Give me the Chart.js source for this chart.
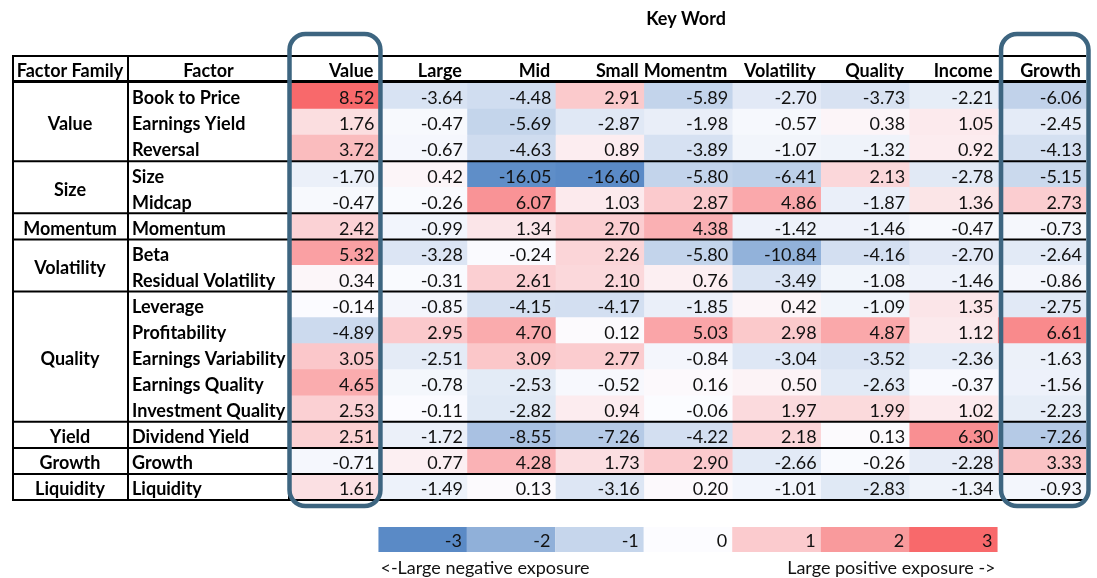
<!DOCTYPE html>
<html>
<head>
<meta charset="utf-8">
<script src="https://cdn.jsdelivr.net/npm/chart.js@4.4.1/dist/chart.umd.min.js"></script>
<style>
    body { margin: 0; background: #fff; }
    #wrap { width: 1097px; height: 578px; }
</style>
</head>
<body>
<div id="wrap"><canvas id="heat" width="1097" height="578"></canvas></div>
<script>
const columns = ['Value', 'Large', 'Mid', 'Small', 'Momentm', 'Volatility', 'Quality', 'Income', 'Growth'];
const factors = ['Book to Price', 'Earnings Yield', 'Reversal', 'Size', 'Midcap', 'Momentum', 'Beta',
    'Residual Volatility', 'Leverage', 'Profitability', 'Earnings Variability', 'Earnings Quality',
    'Investment Quality', 'Dividend Yield', 'Growth', 'Liquidity'];
const families = ['Value', 'Size', 'Momentum', 'Volatility', 'Quality', 'Yield', 'Growth', 'Liquidity'];
const familySizes = [3, 2, 1, 2, 5, 1, 1, 1];

const valueCol = [8.52, 1.76, 3.72, -1.70, -0.47, 2.42, 5.32, 0.34, -0.14, -4.89, 3.05, 4.65, 2.53, 2.51, -0.71, 1.61];
const largeCol = [-3.64, -0.47, -0.67, 0.42, -0.26, -0.99, -3.28, -0.31, -0.85, 2.95, -2.51, -0.78, -0.11, -1.72, 0.77, -1.49];
const midCol = [-4.48, -5.69, -4.63, -16.05, 6.07, 1.34, -0.24, 2.61, -4.15, 4.70, 3.09, -2.53, -2.82, -8.55, 4.28, 0.13];
const smallCol = [2.91, -2.87, 0.89, -16.60, 1.03, 2.70, 2.26, 2.10, -4.17, 0.12, 2.77, -0.52, 0.94, -7.26, 1.73, -3.16];
const momentumCol = [-5.89, -1.98, -3.89, -5.80, 2.87, 4.38, -5.80, 0.76, -1.85, 5.03, -0.84, 0.16, -0.06, -4.22, 2.90, 0.20];
const volatilityCol = [-2.70, -0.57, -1.07, -6.41, 4.86, -1.42, -10.84, -3.49, 0.42, 2.98, -3.04, 0.50, 1.97, 2.18, -2.66, -1.01];
const qualityCol = [-3.73, 0.38, -1.32, 2.13, -1.87, -1.46, -4.16, -1.08, -1.09, 4.87, -3.52, -2.63, 1.99, 0.13, -0.26, -2.83];
const incomeCol = [-2.21, 1.05, 0.92, -2.78, 1.36, -0.47, -2.70, -1.46, 1.35, 1.12, -2.36, -0.37, 1.02, 6.30, -2.28, -1.34];
const growthCol = [-6.06, -2.45, -4.13, -5.15, 2.73, -0.73, -2.64, -0.86, -2.75, 6.61, -1.63, -1.56, -2.23, -7.26, 3.33, -0.93];

const legendTicks = [-3, -2, -1, 0, 1, 2, 3];

const allCols = [valueCol, largeCol, midCol, smallCol, momentumCol, volatilityCol, qualityCol, incomeCol, growthCol];

// excel style 3 colour scale: blue - white - red, midpoint 0
const LOW = [90, 138, 198];
const MID = [252, 252, 255];
const HIGH = [248, 105, 107];
const allValues = allCols.flat();
const minVal = Math.min(...allValues);
const maxVal = Math.max(...allValues);

function mix(a, b, t) {
    const c = a.map((v, i) => Math.round(v + (b[i] - v) * t));
    return `rgb(${c[0]},${c[1]},${c[2]})`;
}
function colorFrac(t) {
    return t >= 0 ? mix(MID, HIGH, t) : mix(MID, LOW, -t);
}
function cellColor(v) {
    return v >= 0 ? colorFrac(v / maxVal) : colorFrac(-v / minVal);
}

const FONT = 'Lato, "Open Sans", sans-serif';
const SIZE = '18px ';

const datasets = allCols.map((col, j) => ({
    label: columns[j],
    data: factors.map(() => [j, j + 1]),
    backgroundColor: col.map(cellColor),
    borderWidth: 0,
    barPercentage: 1,
    categoryPercentage: 1,
    grouped: false
}));

const tablePlugin = {
    id: 'tablePlugin',
    afterDatasetsDraw(chart) {
        const ctx = chart.ctx;
        ctx.save();
        ctx.font = SIZE + FONT;
        ctx.fillStyle = '#111';
        ctx.textAlign = 'right';
        ctx.textBaseline = 'middle';
        allCols.forEach((col, j) => {
            const meta = chart.getDatasetMeta(j);
            meta.data.forEach((bar, i) => {
                ctx.fillText(col[i].toFixed(2), bar.x - 4, bar.y + 2.5);
            });
        });
        ctx.restore();
    },
    afterDraw(chart) {
        const ctx = chart.ctx;
        const x = chart.scales.x;
        const y = chart.scales.y;
        const area = chart.chartArea;
        const band = (area.bottom - area.top) / factors.length;
        const left = 12;
        const famRight = 128;
        const facRight = 289;
        const headTop = 56;
        const headY = 71;

        ctx.save();
        ctx.fillStyle = '#000';
        ctx.textBaseline = 'middle';

        // title
        ctx.font = 'bold ' + SIZE + FONT;
        ctx.textAlign = 'center';
        ctx.fillText('Key Word', (x.getPixelForValue(0) + x.getPixelForValue(9)) / 2 - 2, 19);

        // header
        ctx.fillText('Factor Family', (left + famRight) / 2, headY);
        ctx.fillText('Factor', (famRight + facRight) / 2, headY);
        ctx.textAlign = 'right';
        columns.forEach((c, j) => ctx.fillText(c, x.getPixelForValue(j + 1) - 5, headY));

        // factor names
        ctx.textAlign = 'left';
        factors.forEach((f, i) => ctx.fillText(f, famRight + 4, y.getPixelForValue(i) + 2.5));

        // families + group lines
        ctx.strokeStyle = '#000';
        ctx.textAlign = 'center';
        let start = 0;
        families.forEach((fam, k) => {
            const end = start + familySizes[k];
            const mid = area.top + band * (start + end) / 2;
            ctx.fillText(fam, (left + famRight) / 2, mid + 2.5);
            const ly = area.top + band * end;
            ctx.lineWidth = 2;
            ctx.beginPath();
            ctx.moveTo(left, ly);
            ctx.lineTo(area.right, ly);
            ctx.stroke();
            start = end;
        });

        // header lines
        ctx.lineWidth = 2;
        ctx.beginPath();
        ctx.moveTo(left, headTop);
        ctx.lineTo(area.right, headTop);
        ctx.stroke();
        ctx.lineWidth = 3;
        ctx.beginPath();
        ctx.moveTo(left, area.top - 1.5);
        ctx.lineTo(area.right, area.top - 1.5);
        ctx.stroke();

        // vertical lines
        ctx.lineWidth = 2;
        [left + 1, famRight, facRight].forEach(vx => {
            ctx.beginPath();
            ctx.moveTo(vx, headTop - 1);
            ctx.lineTo(vx, area.bottom + 1);
            ctx.stroke();
        });

        // highlight boxes
        ctx.strokeStyle = '#3d6580';
        ctx.lineWidth = 4.5;
        const boxes = [
            [x.getPixelForValue(0) - 0.5, x.getPixelForValue(1) + 2],
            [x.getPixelForValue(8) + 3.5, x.getPixelForValue(9) + 2.5]
        ];
        boxes.forEach(([bl, br]) => {
            ctx.beginPath();
            ctx.roundRect(bl, 34, br - bl, 472, 16);
            ctx.stroke();
        });

        // colour legend
        const legTop = 527;
        const legH = 25;
        ctx.font = SIZE + FONT;
        legendTicks.forEach((t, k) => {
            const l = x.getPixelForValue(k + 1);
            const r = x.getPixelForValue(k + 2);
            ctx.fillStyle = colorFrac(t / 3);
            ctx.fillRect(l, legTop, r - l, legH);
            ctx.fillStyle = '#111';
            ctx.textAlign = 'right';
            ctx.fillText(String(t), r - 5, legTop + legH / 2 + 2);
        });
        ctx.textAlign = 'left';
        ctx.fillText('<-Large negative exposure', x.getPixelForValue(1) + 2, 568);
        ctx.textAlign = 'right';
        ctx.fillText('Large positive exposure ->', x.getPixelForValue(8) - 2, 568);

        ctx.restore();
    }
};

new Chart(document.getElementById('heat').getContext('2d'), {
    type: 'bar',
    data: { labels: factors, datasets: datasets },
    options: {
        indexAxis: 'y',
        responsive: false,
        animation: false,
        layout: { padding: { left: 290, right: 11, top: 83, bottom: 78 } },
        scales: {
            x: { type: 'linear', min: 0, max: 9, display: false },
            y: { type: 'category', display: false }
        },
        plugins: {
            legend: { display: false },
            tooltip: { enabled: false }
        }
    },
    plugins: [tablePlugin]
});
</script>
</body>
</html>
